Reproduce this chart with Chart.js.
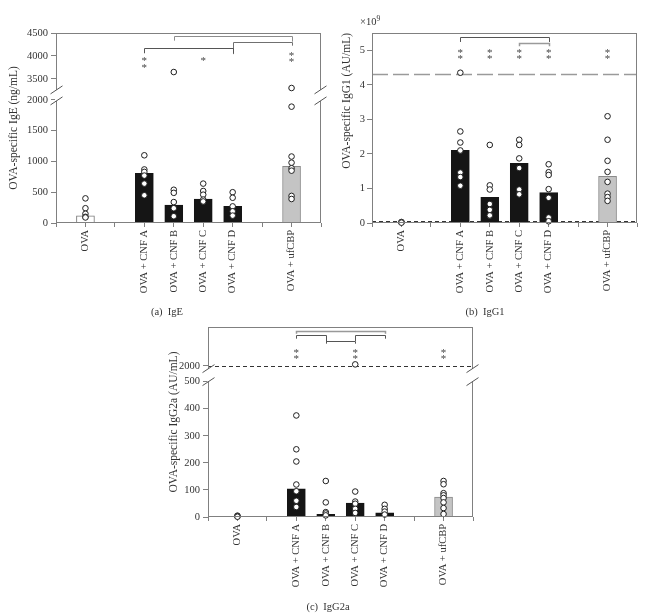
<!DOCTYPE html>
<html>
<head>
<meta charset="utf-8">
<script src="https://cdn.jsdelivr.net/npm/chart.js@4.4.1/dist/chart.umd.min.js"></script>
<style>
html, body { margin:0; padding:0; background:#ffffff; }
body { width:670px; height:615px; position:relative; overflow:hidden; font-family:"Liberation Serif", "Times New Roman", serif; color:#333; }
.panel { position:absolute; }
.panel canvas { display:block; }
.cap { position:absolute; font-size:10.5px; white-space:pre; transform:translate(-50%,-50%); line-height:1; }
.exp { position:absolute; font-size:10.5px; line-height:1; white-space:pre; }
.exp sup { font-size:7.5px; vertical-align:4px; line-height:0; }
</style>
</head>
<body>
<div class="panel" style="left:0px;top:0px;width:335px;height:300px"><canvas id="chartA" width="335" height="300" style="width:335px;height:300px"></canvas></div>
<div class="panel" style="left:335px;top:0px;width:335px;height:300px"><canvas id="chartB" width="335" height="300" style="width:335px;height:300px"></canvas></div>
<div class="panel" style="left:150px;top:300px;width:340px;height:315px"><canvas id="chartC" width="340" height="315" style="width:340px;height:315px"></canvas></div>
<div class="exp" style="left:360px;top:17px">×10<sup>9</sup></div>
<div class="cap" style="left:167px;top:312px">(a)  IgE</div>
<div class="cap" style="left:485px;top:312px">(b)  IgG1</div>
<div class="cap" style="left:328px;top:607px">(c)  IgG2a</div>
<script>
// ---------- categories ----------
const slots = ['', 'OVA', ' ', 'OVA + CNF A', 'OVA + CNF B', 'OVA + CNF C', 'OVA + CNF D', '  ', 'OVA + ufCBP', '   '];
const groups = ['OVA', 'OVA + CNF A', 'OVA + CNF B', 'OVA + CNF C', 'OVA + CNF D', 'OVA + ufCBP'];

// ---------- (a) IgE (ng/mL) ----------
const igeBars = [115, 805, 290, 390, 270, 920];
const igePoints = [
  [400, 240, 150, 100, 90],
  [1100, 870, 830, 770, 640, 450],
  [3650, 540, 490, 340, 240, 110],
  [640, 520, 460, 380, 350],
  [500, 410, 270, 190, 120],
  [2850, 1890, 1080, 980, 890, 850, 440, 390]
];
const igeTicks = [0, 500, 1000, 1500, 2000, 3500, 4000, 4500];
const igeBrackets = [
  ['OVA + CNF B', 'OVA + ufCBP', 4435, 4333, 4311],
  ['OVA + CNF D', 'OVA + ufCBP', 4298, 4040, 4224],
  ['OVA + CNF A', 'OVA + CNF D', 4180, 4059, 4059]
];
const igeStars = [
  ['OVA + CNF A', 3935], ['OVA + CNF A', 3783],
  ['OVA + CNF C', 3935],
  ['OVA + ufCBP', 4059], ['OVA + ufCBP', 3928]
];

// ---------- (b) IgG1 (x10^9 AU/mL) ----------
const igg1Bars = [0.02, 2.10, 0.74, 1.73, 0.88, 1.35];
const igg1Points = [
  [0.03, 0.02, 0.01],
  [4.35, 2.65, 2.33, 2.10, 1.46, 1.33, 1.08],
  [2.26, 1.09, 0.97, 0.55, 0.38, 0.22],
  [2.41, 2.26, 1.87, 1.59, 0.97, 0.83],
  [1.70, 1.47, 1.39, 0.98, 0.73, 0.16, 0.05],
  [3.09, 2.41, 1.80, 1.48, 1.19, 0.85, 0.75, 0.64]
];
const igg1Ticks = [0, 1, 2, 3, 4, 5];
const igg1RefLines = [4.3, 0.05];
const igg1Brackets = [
  ['OVA + CNF A', 'OVA + CNF D', 5.37, 5.24, 5.24],
  ['OVA + CNF C', 'OVA + CNF D', 5.22, 5.12, 5.12]
];
const igg1Stars = [
  ['OVA + CNF A', 5.0], ['OVA + CNF A', 4.81],
  ['OVA + CNF B', 5.0], ['OVA + CNF B', 4.81],
  ['OVA + CNF C', 5.0], ['OVA + CNF C', 4.81],
  ['OVA + CNF D', 5.0], ['OVA + CNF D', 4.81],
  ['OVA + ufCBP', 5.0], ['OVA + ufCBP', 4.81]
];

// ---------- (c) IgG2a (AU/mL) ----------
const igg2aBars = [2, 104, 10, 51, 15, 74];
const igg2aPoints = [
  [5, 3, 1],
  [375, 250, 205, 120, 95, 60, 37],
  [133, 54, 18, 13, 6],
  [2040, 94, 57, 49, 30, 15],
  [45, 30, 20, 9],
  [133, 121, 88, 80, 70, 54, 33, 11]
];
const igg2aTicks = [0, 100, 200, 300, 400, 500, 2000];
const igg2aRefLines = [2000];
const igg2aBrackets = [
  ['OVA + CNF A', 'OVA + CNF D', 2897, 2828, 2828],
  ['OVA + CNF A', 'OVA + CNF B', 2787, 2700, 2597],
  ['OVA + CNF B', 'OVA + CNF C', 2641, 2572, 2572],
  ['OVA + CNF C', 'OVA + CNF D', 2787, 2641, 2700]
];
const igg2aStars = [
  ['OVA + CNF A', 2403], ['OVA + CNF A', 2249],
  ['OVA + CNF C', 2403], ['OVA + CNF C', 2249],
  ['OVA + ufCBP', 2403], ['OVA + ufCBP', 2249]
];

// ---------- styling ----------
const groupFill = ['#ffffff', '#151515', '#151515', '#151515', '#151515', '#c4c4c4'];
const groupEdge = ['#7a7a7a', '#151515', '#151515', '#151515', '#151515', '#8a8a8a'];
Chart.defaults.font.family = "'Liberation Serif', 'Times New Roman', serif";
Chart.defaults.color = '#333';

// broken axis: values above the break are compressed into the upper segment
function brokenAxis(lowMax, highMin, gapUnits, highPerUnit) {
  return v => v <= lowMax ? v
    : (v < highMin ? lowMax + (v - lowMax) / (highMin - lowMax) * gapUnits
                   : lowMax + gapUnits + (v - highMin) * highPerUnit);
}
const tA = brokenAxis(2000, 3500, 340.6, 0.746);
const tB = v => v;
const tC = brokenAxis(500, 2000, 57.9, 0.1438);

function decor(o) {
  return {
    id: 'decor',
    beforeDatasetsDraw(chart) {
      const ctx = chart.ctx, a = chart.chartArea, y = chart.scales.y;
      (o.refLines || []).forEach(r => {
        const py = Math.round(y.getPixelForValue(o.t(r.value))) + 0.5;
        ctx.save();
        ctx.strokeStyle = r.color; ctx.lineWidth = r.width; ctx.setLineDash(r.dash);
        ctx.beginPath(); ctx.moveTo(a.left, py); ctx.lineTo(a.right, py); ctx.stroke();
        ctx.restore();
      });
    },
    afterDraw(chart) {
      const ctx = chart.ctx, a = chart.chartArea, x = chart.scales.x, y = chart.scales.y;
      ctx.save();
      const L = Math.round(a.left) + 0.5, R = Math.round(a.right) - 0.5;
      const T = Math.round(a.top) + 0.5, B = Math.round(a.bottom) - 0.5;
      ctx.strokeStyle = '#808080'; ctx.lineWidth = 1;
      ctx.strokeRect(L, T, R - L, B - T);
      if (o.breakAt !== undefined) {
        const yb = y.getPixelForValue(o.t(o.breakAt));
        const cs = o.breakOffsets.map(d => yb + d);
        [L, R].forEach(xx => {
          ctx.fillStyle = '#ffffff';
          ctx.fillRect(xx - 1.5, Math.min(cs[0], cs[1]), 3, Math.abs(cs[1] - cs[0]));
          ctx.strokeStyle = '#555';
          cs.forEach(cy => {
            ctx.beginPath(); ctx.moveTo(xx - 6, cy + 4); ctx.lineTo(xx + 6, cy - 4); ctx.stroke();
          });
        });
      }
      o.brackets.forEach((b, i) => {
        const x1 = Math.round(x.getPixelForValue(slots.indexOf(b[0]))) + 0.5;
        const x2 = Math.round(x.getPixelForValue(slots.indexOf(b[1]))) + 0.5;
        const yl = Math.round(y.getPixelForValue(o.t(b[2]))) + 0.5;
        const y1 = y.getPixelForValue(o.t(b[3]));
        const y2 = y.getPixelForValue(o.t(b[4]));
        ctx.strokeStyle = o.bracketColors[i]; ctx.lineWidth = o.bracketWidths[i];
        ctx.beginPath(); ctx.moveTo(x1, y1); ctx.lineTo(x1, yl); ctx.lineTo(x2, yl); ctx.lineTo(x2, y2); ctx.stroke();
      });
      ctx.fillStyle = '#444';
      ctx.font = "11px 'Liberation Serif'";
      ctx.textAlign = 'center'; ctx.textBaseline = 'middle';
      o.stars.forEach(s => {
        const px = x.getPixelForValue(slots.indexOf(s[0]));
        ctx.fillText('*', px, y.getPixelForValue(o.t(s[1])) + 2.5);
      });
      ctx.restore();
    }
  };
}

function buildPanel(id, o) {
  const t = o.t;
  const barData = slots.map(s => { const i = groups.indexOf(s); return i < 0 ? null : t(o.bars[i]); });
  const barFill = slots.map(s => { const i = groups.indexOf(s); return i < 0 ? 'rgba(0,0,0,0)' : groupFill[i]; });
  const barEdge = slots.map(s => { const i = groups.indexOf(s); return i < 0 ? 'rgba(0,0,0,0)' : groupEdge[i]; });
  const pts = [];
  groups.forEach((g, i) => o.points[i].forEach(v => pts.push({ x: g, y: t(v) })));
  return new Chart(document.getElementById(id), {
    type: 'bar',
    data: {
      labels: slots,
      datasets: [
        { type: 'line', data: pts, showLine: false, pointRadius: 2.8, pointHoverRadius: 2.8,
          pointBackgroundColor: '#ffffff', pointBorderColor: '#1e1e1e', pointBorderWidth: 1, order: 0, clip: false },
        { type: 'bar', data: barData, backgroundColor: barFill, borderColor: barEdge, borderWidth: 1,
          barThickness: 18, order: 1 }
      ]
    },
    options: {
      responsive: false, animation: false, events: [],
      layout: { padding: o.pad },
      plugins: { legend: { display: false }, tooltip: { enabled: false } },
      scales: {
        x: {
          type: 'category', offset: false,
          grid: { offset: false, drawOnChartArea: false, drawTicks: true, tickLength: 4, color: '#808080' },
          border: { display: false },
          ticks: { autoSkip: false, minRotation: 90, maxRotation: 90, padding: 3, color: '#333', font: { size: 10.5 } },
          afterFit: s => { s.height = o.xh; s.paddingLeft = 0; s.paddingRight = 0; }
        },
        y: {
          type: 'linear', min: 0, max: t(o.top),
          grid: { drawOnChartArea: false, drawTicks: true, tickLength: 5, color: '#808080' },
          border: { display: false },
          ticks: { padding: o.tickPad, color: '#333', font: { size: 10.5 }, callback: (v, i) => String(o.ticks[i]) },
          afterBuildTicks: s => { s.ticks = o.ticks.map(v => ({ value: t(v) })); },
          afterFit: s => { s.width = o.yw; },
          title: { display: true, text: o.title, align: o.titleAlign, padding: { top: o.titlePad, bottom: 0 },
                   font: { size: 11.5 }, color: '#333' }
        }
      }
    },
    plugins: [decor(o)]
  });
}

buildPanel('chartA', {
  t: tA, bars: igeBars, points: igePoints, ticks: igeTicks, top: 4500,
  pad: { left: 0, right: 14, top: 33, bottom: 0 }, yw: 56, xh: 77, tickPad: 3,
  title: 'OVA-specific IgE (ng/mL)', titleAlign: 'center', titlePad: 7,
  breakAt: 2000, breakOffsets: [-10, 1],
  brackets: igeBrackets, bracketColors: ['#8c8c8c', '#707070', '#555555'], bracketWidths: [1, 1, 1],
  stars: igeStars
});

buildPanel('chartB', {
  t: tB, bars: igg1Bars, points: igg1Points, ticks: igg1Ticks, top: 5.5,
  pad: { left: 0, right: 33, top: 33, bottom: 0 }, yw: 37, xh: 77, tickPad: 2,
  title: 'OVA-specific IgG1 (AU/mL)', titleAlign: 'end', titlePad: 5,
  refLines: [
    { value: igg1RefLines[0], color: '#9a9a9a', width: 1.5, dash: [16, 5] },
    { value: igg1RefLines[1], color: '#333333', width: 1, dash: [4, 3] }
  ],
  brackets: igg1Brackets, bracketColors: ['#555555', '#9a9a9a'], bracketWidths: [1, 1.5],
  stars: igg1Stars
});

buildPanel('chartC', {
  t: tC, bars: igg2aBars, points: igg2aPoints, ticks: igg2aTicks, top: 3000,
  pad: { left: 0, right: 17, top: 27, bottom: 0 }, yw: 58, xh: 98, tickPad: 3,
  title: 'OVA-specific IgG2a (AU/mL)', titleAlign: 'center', titlePad: 17,
  refLines: [ { value: igg2aRefLines[0], color: '#333333', width: 1, dash: [4, 3] } ],
  breakAt: 500, breakOffsets: [-13, 0],
  brackets: igg2aBrackets, bracketColors: ['#999999', '#555555', '#555555', '#555555'], bracketWidths: [1.5, 1, 1, 1],
  stars: igg2aStars
});
</script>
</body>
</html>
